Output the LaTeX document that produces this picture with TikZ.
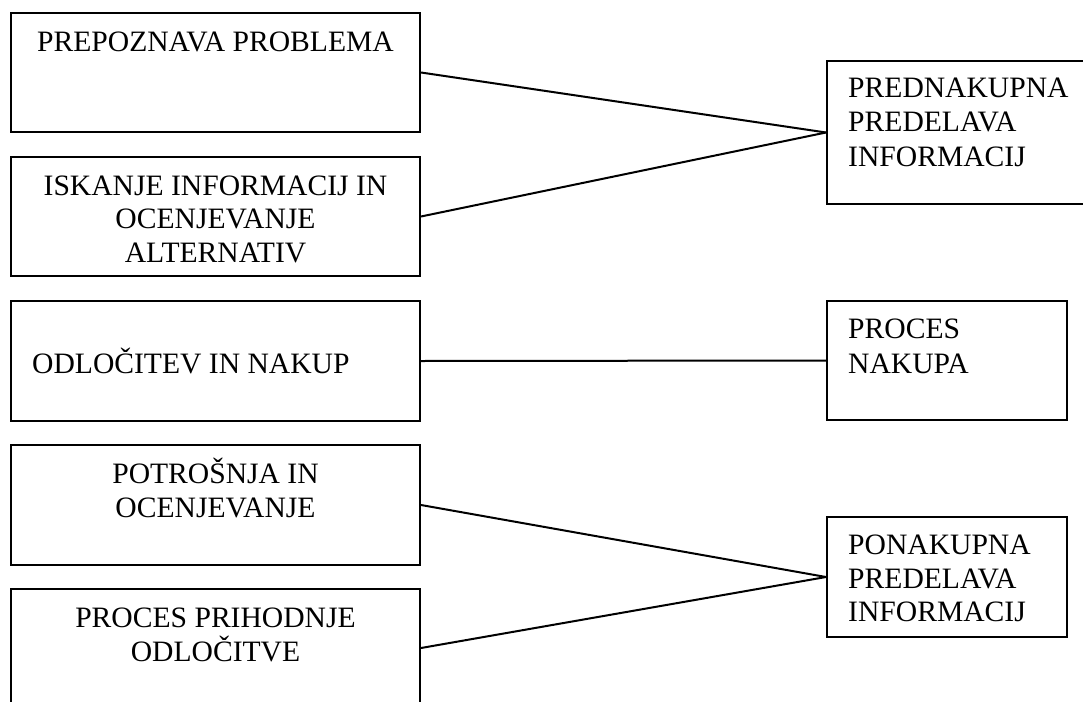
\documentclass[tikz,border=0pt]{standalone}
\usepackage{fontspec}
\setmainfont{Liberation Serif}
\begin{document}
\begin{tikzpicture}[x=1pt,y=-1pt,
  box/.style={draw=black, line width=2pt, inner sep=0pt},
  link/.style={draw=black, line width=2pt},
  txt/.style={inner sep=0pt, font=\fontsize{29.6}{34}\selectfont}
]
\useasboundingbox (0,0) rectangle (1083,701);

% left column: stages of the decision process
\node[box, minimum width=409pt, minimum height=119pt] (b1) at (215.5,72.5) {};
\node[box, minimum width=409pt, minimum height=119pt] (b2) at (215.5,216.5) {};
\node[box, minimum width=409pt, minimum height=120pt] (b3) at (215.5,361) {};
\node[box, minimum width=409pt, minimum height=120pt] (b4) at (215.5,505) {};
\node[box, minimum width=409pt, minimum height=118pt] (b5) at (215.5,648) {};

% right column: information processing phases
\node[box, minimum width=263pt, minimum height=143pt] (r1) at (958.5,132.5) {};
\node[box, minimum width=240pt, minimum height=119pt] (r2) at (947,360.5) {};
\node[box, minimum width=240pt, minimum height=120pt] (r3) at (947,577) {};

% labels
\node[txt, anchor=base] at (215.5,52) {PREPOZNAVA PROBLEMA};
\node[txt, anchor=base] at (215.5,195) {ISKANJE INFORMACIJ IN};
\node[txt, anchor=base] at (215.5,228.5) {OCENJEVANJE};
\node[txt, anchor=base] at (215.5,262) {ALTERNATIV};
\node[txt, anchor=base west] at (32,373) {ODLOČITEV IN NAKUP};
\node[txt, anchor=base] at (215.5,483) {POTROŠNJA IN};
\node[txt, anchor=base] at (215.5,517) {OCENJEVANJE};
\node[txt, anchor=base] at (215.5,627) {PROCES PRIHODNJE};
\node[txt, anchor=base] at (215.5,661) {ODLOČITVE};

\node[txt, anchor=base west] at (848,97) {PREDNAKUPNA};
\node[txt, anchor=base west] at (848,131.5) {PREDELAVA};
\node[txt, anchor=base west] at (848,166) {INFORMACIJ};
\node[txt, anchor=base west] at (848,338) {PROCES};
\node[txt, anchor=base west] at (848,373) {NAKUPA};
\node[txt, anchor=base west] at (848,554) {PONAKUPNA};
\node[txt, anchor=base west] at (848,588) {PREDELAVA};
\node[txt, anchor=base west] at (848,621.5) {INFORMACIJ};

% connectors
\draw[link] (b1.east) -- (r1.west);
\draw[link] (b2.east) -- (r1.west);
\draw[link] (b3.east) -- (r2.west);
\draw[link] (b4.east) -- (r3.west);
\draw[link] (b5.east) -- (r3.west);
\end{tikzpicture}
\end{document}
